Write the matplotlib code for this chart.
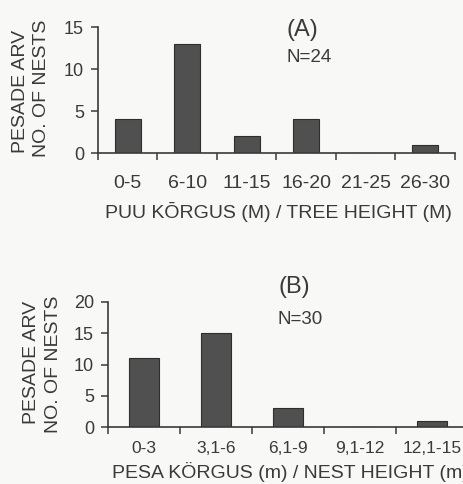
import matplotlib
matplotlib.use("Agg")
import matplotlib.pyplot as plt
import numpy as np

plt.rcParams['font.family'] = ['Liberation Sans', 'DejaVu Sans']

cats_a = ["0-5", "6-10", "11-15", "16-20", "21-25", "26-30"]
vals_a = [4, 13, 2, 4, 0, 1]
yticks_a = [0, 5, 10, 15]

cats_b = ["0-3", "3,1-6", "6,1-9", "9,1-12", "12,1-15"]
vals_b = [11, 15, 3, 0, 1]
yticks_b = [0, 5, 10, 15, 20]

W, H = 464, 484
BG = '#f8f8f6'
TXT = '#3a3a3a'
BAR = '#505050'

fig = plt.figure(figsize=(W / 100, H / 100), dpi=100, facecolor=BG)

def px_axes(left, right, top, bottom):
    return fig.add_axes([left / W, 1 - bottom / H, (right - left) / W, (bottom - top) / H])

def style(ax, cats, vals, yticks, barw, xpad, xsize):
    ax.set_facecolor(BG)
    x = np.arange(len(cats)) + 0.5
    ax.bar(x, vals, width=barw, color=BAR, edgecolor='#2e2e2e', linewidth=0.8, zorder=3)
    ax.set_xlim(0, len(cats))
    ax.set_ylim(0, yticks[-1])
    ax.set_yticks(yticks)
    ax.set_xticks(x)
    ax.set_xticklabels(cats)
    ax.set_xticks(np.arange(len(cats) + 1), minor=True)
    for s in ['top', 'right']:
        ax.spines[s].set_visible(False)
    for s in ['left', 'bottom']:
        ax.spines[s].set_color(TXT)
        ax.spines[s].set_linewidth(1.2)
    ax.spines['bottom'].set_zorder(4)
    ax.tick_params(axis='x', which='major', length=0, pad=xpad, labelsize=xsize, labelcolor=TXT)
    ax.tick_params(axis='x', which='minor', length=5, width=1.1, color=TXT, direction='out')
    ax.tick_params(axis='y', length=5, width=1.1, color=TXT, labelsize=13, labelcolor=TXT, pad=5)

axA = px_axes(98, 455, 27, 153)
style(axA, cats_a, vals_a, yticks_a, 0.44, 16, 14)

axB = px_axes(108, 468, 302, 427)
style(axB, cats_b, vals_b, yticks_b, 0.42, 10, 12.5)

def ftext(x, y, s, **kw):
    kw.setdefault('color', TXT)
    fig.text(x / W, 1 - y / H, s, **kw)

# panel A texts
ftext(302, 30, "(A)", ha='center', va='center', fontsize=17)
ftext(287, 57, "N=24", ha='left', va='center', fontsize=13.5)
ftext(278, 212, "PUU KŌRGUS (M) / TREE HEIGHT (M)", ha='center', va='center', fontsize=14)
ftext(21, 91, "PESADE ARV", ha='center', va='center', rotation=90, fontsize=14)
ftext(42, 88, "NO. OF NESTS", ha='center', va='center', rotation=90, fontsize=14)

# panel B texts
ftext(294, 287, "(B)", ha='center', va='center', fontsize=17)
ftext(278, 319, "N=30", ha='left', va='center', fontsize=13.5)
ftext(112, 472, "PESA KÖRGUS (m) / NEST HEIGHT (m)", ha='left', va='center', fontsize=14)
ftext(32, 362, "PESADE ARV", ha='center', va='center', rotation=90, fontsize=14)
ftext(54, 364, "NO. OF NESTS", ha='center', va='center', rotation=90, fontsize=14)

fig.savefig("out.png", dpi=100, facecolor=BG)
